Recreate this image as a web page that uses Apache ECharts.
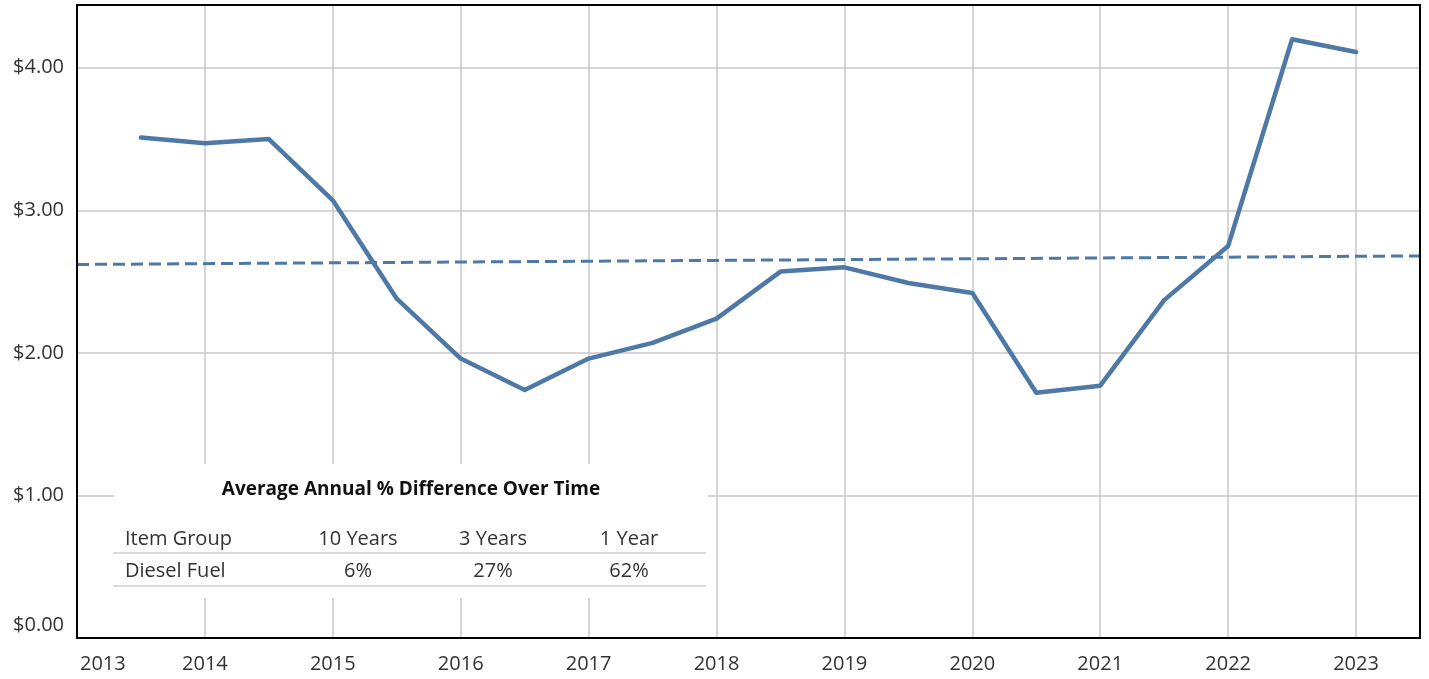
<!DOCTYPE html>
<html>
<head>
<meta charset="utf-8">
<script src="https://cdn.jsdelivr.net/npm/echarts@6/dist/echarts.min.js"></script>
<style>html,body{margin:0;padding:0;background:#fff}#c{width:1429px;height:679px}</style>
</head>
<body>
<div id="c"></div>
<script>
// Data
const periods = [2013.5,2014,2014.5,2015,2015.5,2016,2016.5,2017,2017.5,2018,2018.5,2019,2019.5,2020,2020.5,2021,2021.5,2022,2022.5,2023];
const prices  = [3.51,3.47,3.50,3.07,2.38,1.96,1.74,1.96,2.07,2.24,2.57,2.60,2.49,2.42,1.72,1.77,2.37,2.75,4.20,4.11];
const trendX = [2013, 2023.5];
const trendY = [2.62, 2.68];
const tableTitle = 'Average Annual % Difference Over Time';
const tableHeaders = ['Item Group','10 Years','3 Years','1 Year'];
const tableRow = ['Diesel Fuel','6%','27%','62%'];

const FONT = '"Open Sans"';
const chart = echarts.init(document.getElementById('c'));

const GL = 77, GR = 9, GT = 5, GB = 41, W = 1429, H = 679;

const rowCenters = [null, 358, 493, 629];
function cellText(t, i, y) {
  return {
    type: 'text', z: 101,
    style: {
      text: t, x: i === 0 ? 125 : rowCenters[i], y: y,
      textAlign: i === 0 ? 'left' : 'center', textVerticalAlign: 'middle',
      font: '20px ' + FONT, fill: '#333'
    }
  };
}
const graphics = [
  { type: 'rect', z: 50, silent: true, shape: { x: GL, y: GT, width: W - GL - GR, height: H - GT - GB }, style: { fill: 'none', stroke: '#000', lineWidth: 2 } },
  { type: 'rect', z: 100, shape: { x: 114, y: 464, width: 594, height: 134 }, style: { fill: '#fff' } },
  { type: 'text', z: 101, style: { text: tableTitle, x: 411, y: 490, textAlign: 'center', textVerticalAlign: 'middle', font: 'bold 19px ' + FONT, fill: '#111' } },
  { type: 'line', z: 101, shape: { x1: 113, y1: 553, x2: 706, y2: 553 }, style: { stroke: '#cfcfcf', lineWidth: 1.5 } },
  { type: 'line', z: 101, shape: { x1: 113, y1: 586, x2: 706, y2: 586 }, style: { stroke: '#cfcfcf', lineWidth: 1.5 } }
];
tableHeaders.forEach((t, i) => graphics.push(cellText(t, i, 539)));
tableRow.forEach((t, i) => graphics.push(cellText(t, i, 571)));

chart.setOption({
  animation: false,
  grid: { left: GL, right: GR, top: GT, bottom: GB, show: false },
  xAxis: {
    type: 'value', min: 2013, max: 2023.5, interval: 1,
    axisLine: { show: false },
    axisTick: { show: false },
    splitLine: { show: true, lineStyle: { color: '#c8c8c8', width: 1.5 } },
    axisLabel: {
      formatter: v => v === 2013 ? '{f|2013}' : String(Math.round(v)),
      fontFamily: FONT, fontSize: 20, color: '#333', margin: 16,
      alignMinLabel: 'left', showMaxLabel: false,
      rich: { f: { fontFamily: FONT, fontSize: 20, color: '#333', padding: [0, 0, 0, 3] } }
    }
  },
  yAxis: {
    type: 'value', min: 0, max: 4.44, interval: 1,
    axisLine: { show: false },
    axisTick: { show: false },
    splitLine: { show: true, lineStyle: { color: '#c8c8c8', width: 1.5 } },
    axisLabel: {
      showMaxLabel: false,
      formatter: v => v === 0 ? '{z|$0.00}' : '$' + v.toFixed(2),
      fontFamily: FONT, fontSize: 20, color: '#333', margin: 13,
      rich: { z: { fontFamily: FONT, fontSize: 20, color: '#333', padding: [0, 0, 26, 0] } }
    }
  },
  series: [
    {
      type: 'line', data: periods.map((p, i) => [p, prices[i]]),
      showSymbol: false, symbol: 'none',
      lineStyle: { color: '#4e79a7', width: 4.5, join: 'round', cap: 'round' },
      z: 3
    },
    {
      type: 'line', data: trendX.map((p, i) => [p, trendY[i]]),
      showSymbol: false, symbol: 'none',
      lineStyle: { color: '#4e79a7', width: 3, type: [12, 6] },
      z: 2
    }
  ],
  graphic: graphics
});
</script>
</body>
</html>
